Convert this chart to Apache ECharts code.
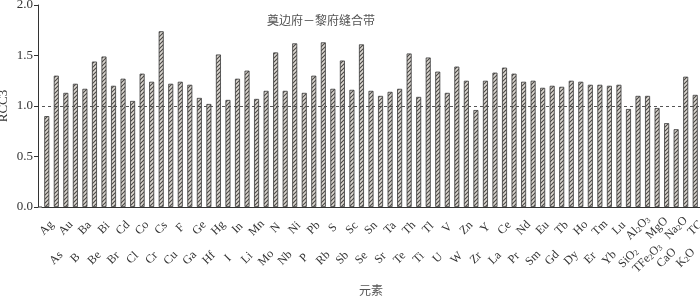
<!DOCTYPE html>
<html>
<head>
<meta charset="utf-8">
<script src="https://cdn.jsdelivr.net/npm/echarts@6/dist/echarts.min.js"></script>
<style>html,body{margin:0;padding:0;background:#fff;}#c{width:700px;height:299px;}</style>
</head>
<body>
<div id="c"></div>
<script>
const categories = ['Ag','As','Au','B','Ba','Be','Bi','Br','Cd','Cl','Co','Cr','Cs','Cu','F','Ga','Ge','Hf','Hg','I','In','Li','Mn','Mo','N','Nb','Ni','P','Pb','Rb','S','Sb','Sc','Se','Sn','Sr','Ta','Te','Th','Ti','Tl','U','V','W','Zn','Zr','Y','La','Ce','Pr','Nd','Sm','Eu','Gd','Tb','Dy','Ho','Er','Tm','Yb','Lu','SiO2','Al2O3','TFe2O3','MgO','CaO','Na2O','K2O','TC'];
const rcc3 = [0.90,1.30,1.13,1.22,1.17,1.44,1.49,1.20,1.27,1.05,1.32,1.24,1.74,1.22,1.24,1.21,1.08,1.02,1.51,1.06,1.27,1.35,1.07,1.15,1.53,1.15,1.62,1.13,1.30,1.63,1.17,1.45,1.16,1.61,1.15,1.10,1.14,1.17,1.52,1.09,1.48,1.34,1.13,1.39,1.25,0.96,1.25,1.33,1.38,1.32,1.24,1.25,1.18,1.20,1.19,1.25,1.24,1.21,1.21,1.20,1.21,0.97,1.10,1.10,0.98,0.83,0.77,1.29,1.11];
const yTicks = [0, 0.5, 1.0, 1.5, 2.0];
const refLine = 1.0;
const titleText = '奠边府－黎府缝合带';
const xName = '元素';
const yName = 'RCC3';

const pc = document.createElement('canvas');
pc.width = 4; pc.height = 4;
const g = pc.getContext('2d');
g.fillStyle = '#dcd8d2'; g.fillRect(0,0,4,4);
g.strokeStyle = '#4a4846'; g.lineWidth = 1.1;
g.beginPath();
g.moveTo(-1,5); g.lineTo(5,-1);
g.moveTo(-1,1); g.lineTo(1,-1);
g.moveTo(3,5); g.lineTo(5,3);
g.stroke();

function fmt(v){
  return v.replace(/(\d)/g, '{s|$1}');
}
const serif = 'Liberation Serif';
const lblBase = {
  rotate: 45, align: 'center', verticalAlign: 'middle',
  fontFamily: serif, fontSize: 12, color: '#333',
  formatter: fmt,
  rich: { s: { fontFamily: serif, fontSize: 8, color: '#333', verticalAlign: 'bottom', padding: [4,0,0,0] } }
};

const chart = echarts.init(document.getElementById('c'));
chart.setOption({
  animation: false,
  title: { text: titleText, left: 262, top: 9, textStyle: { fontFamily: 'Noto Sans CJK SC', fontSize: 12, fontWeight: 'normal', color: '#555' } },
  grid: { left: 42, right: 0, top: 5, bottom: 92, containLabel: false, outerBoundsMode: 'none' },
  xAxis: [
    { type: 'category', data: categories, position: 'bottom',
      axisLine: { lineStyle: { color: '#333', width: 1 } },
      axisTick: { alignWithLabel: true, length: 4, interval: 0, lineStyle: { color: '#333' } },
      axisLabel: Object.assign({}, lblBase, { interval: (i) => i % 2 === 0, margin: 21 }) },
    { type: 'category', data: categories, position: 'bottom',
      axisLine: { show: false }, axisTick: { show: false },
      axisLabel: Object.assign({}, lblBase, { interval: (i) => i % 2 === 1, margin: 51 }),
      name: xName, nameLocation: 'middle', nameGap: 77, nameMoveOverlap: false,
      nameTextStyle: { fontFamily: 'Noto Sans CJK SC', fontSize: 12, color: '#555' } }
  ],
  yAxis: {
    type: 'value', min: yTicks[0], max: yTicks[yTicks.length-1], interval: 0.5, offset: 4,
    axisLine: { show: true, lineStyle: { color: '#333' } },
    axisTick: { show: true, length: 4, lineStyle: { color: '#333' } },
    splitLine: { show: false },
    axisLabel: { fontFamily: serif, fontSize: 13, color: '#333', margin: 5, formatter: (v) => v.toFixed(1) },
    name: yName, nameLocation: 'middle', nameGap: 28, nameRotate: 90, nameMoveOverlap: false,
    nameTextStyle: { fontFamily: serif, fontSize: 13, color: '#333' }
  },
  graphic: [{ type: 'line', shape: { x1: 38, y1: 207, x2: 42, y2: 207 }, style: { stroke: '#333', lineWidth: 1 } }],
  series: [{
    type: 'bar', data: rcc3, barWidth: 5, xAxisIndex: 0,
    itemStyle: { color: { image: pc, repeat: 'repeat' }, borderColor: '#3a3a3a', borderWidth: 0.8 },
    markLine: { silent: true, symbol: 'none', label: { show: false },
      lineStyle: { color: '#555', type: [3,3], width: 1 },
      data: [{ yAxis: refLine }] }
  }]
});
</script>
</body>
</html>
